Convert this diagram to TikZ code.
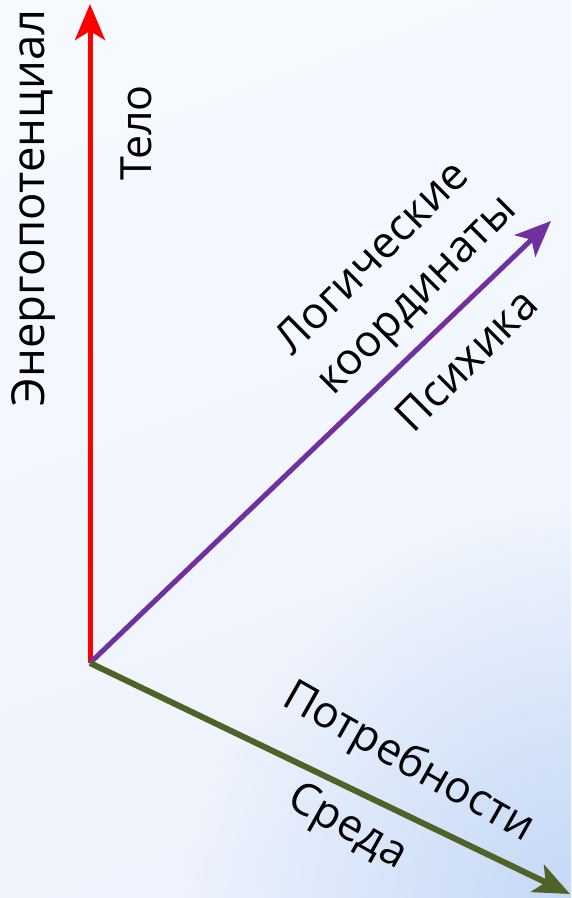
\documentclass[tikz,border=0pt]{standalone}
\usepackage{fontspec}
\setmainfont{Open Sans}
\usetikzlibrary{arrows.meta,fadings}
\definecolor{axred}{HTML}{FF0000}
\definecolor{axpurple}{HTML}{7030A0}
\definecolor{axgreen}{HTML}{4F6228}
\definecolor{bgtop}{HTML}{F6F9FE}
\definecolor{bgbot}{HTML}{EEF3FD}
\definecolor{bgblue}{HTML}{C2D7F6}
\tikzfading[name=cornerfade, inner color=transparent!0, outer color=transparent!100]
\tikzset{
  axis/.style={line width=5pt, -{Stealth[length=36pt,width=30pt,inset=9pt]}},
  lbl/.style={font=\fontsize{44}{48}\selectfont, inner sep=0pt, text=black},
}
\begin{document}
\begin{tikzpicture}[x=1pt,y=-1pt]
\useasboundingbox (0,0) rectangle (571,898);
\shade[top color=bgtop, bottom color=bgbot, shading angle=20] (0,0) rectangle (571,898);
\begin{scope}
\clip (0,0) rectangle (571,898);
\coordinate (corner) at (585,910);
\fill[bgblue, path fading=cornerfade] (corner) circle (400);
\end{scope}
\coordinate (O) at (90,663);
\coordinate (T) at (90,4);
\coordinate (P) at (551,221);
\coordinate (G) at (570,894);
\draw[axis, axred] (O) -- (T);
\draw[axis, axpurple] (O) -- (P);
\draw[axis, axgreen, line width=6pt] (O) -- (G);
\node[lbl, rotate=90, font=\fontsize{45.5}{48}\selectfont] (energy) at (33,208) {Энергопотенциал};
\node[lbl, rotate=90, font=\fontsize{43}{48}\selectfont] (telo) at (136,133) {Тело};
\node[lbl, rotate=45] (logic) at (371,256) {Логические};
\node[lbl, rotate=45] (coord) at (421,299) {координаты};
\node[lbl, rotate=45] (psych) at (466,360) {Психика};
\node[lbl, rotate=-29.5] (needs) at (408,763) {Потребности};
\node[lbl, rotate=-29.5] (env) at (347,828) {Среда};
\end{tikzpicture}
\end{document}
